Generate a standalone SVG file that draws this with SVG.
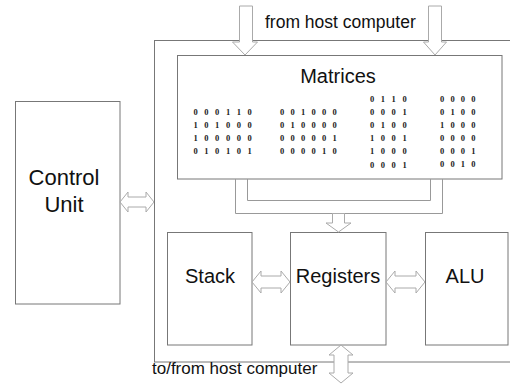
<svg xmlns="http://www.w3.org/2000/svg" width="510" height="388" viewBox="0 0 510 388">
<style>
.box{fill:#fff;stroke:#777;stroke-width:1}
.arr{fill:#fff;stroke:#aaa;stroke-width:1;stroke-linejoin:miter}
.tube{fill:none;stroke:#999;stroke-width:1}
.lbl{font-family:"Liberation Sans",Arial,sans-serif;fill:#111}
.big{font-size:20px;text-anchor:middle}
.host{font-size:17.5px}
.dig{font-family:"Liberation Serif","Times New Roman",serif;font-weight:bold;font-size:8.5px;fill:#222}
</style>
<rect width="510" height="388" fill="#fff"/>
<g id="system">
<rect class="box" x="154.5" y="40.5" width="370" height="321.5"/>
</g>
<g id="control-unit">
<rect class="box" x="15.5" y="101.5" width="104.5" height="202.5"/>
<text class="lbl" x="64" y="185" font-size="22" text-anchor="middle">Control</text>
<text class="lbl" x="64" y="212" font-size="22" text-anchor="middle">Unit</text>
</g>
<g id="matrices">
<rect class="box" x="177.5" y="55.5" width="324.5" height="123.5"/>
<text class="lbl" x="338" y="83" font-size="20" text-anchor="middle">Matrices</text>
<g class="dig">
<text y="115" x="193.5 204.3 215.1 225.9 236.7 247.5">000110</text>
<text y="128" x="193.5 204.3 215.1 225.9 236.7 247.5">101000</text>
<text y="141" x="193.5 204.3 215.1 225.9 236.7 247.5">100000</text>
<text y="154" x="193.5 204.3 215.1 225.9 236.7 247.5">010101</text>
<text y="115" x="280 290.5 301 311.5 322 332.5">001000</text>
<text y="128" x="280 290.5 301 311.5 322 332.5">010000</text>
<text y="141" x="280 290.5 301 311.5 322 332.5">000001</text>
<text y="154" x="280 290.5 301 311.5 322 332.5">000010</text>
<text y="102" x="370 380.8 391.6 402.4">0110</text>
<text y="115" x="370 380.8 391.6 402.4">0001</text>
<text y="128" x="370 380.8 391.6 402.4">0100</text>
<text y="141" x="370 380.8 391.6 402.4">1001</text>
<text y="154" x="370 380.8 391.6 402.4">1000</text>
<text y="168" x="370 380.8 391.6 402.4">0001</text>
<text y="102" x="440 450.4 460.8 471.2">0000</text>
<text y="115" x="440 450.4 460.8 471.2">0100</text>
<text y="128" x="440 450.4 460.8 471.2">1000</text>
<text y="141" x="440 450.4 460.8 471.2">0000</text>
<text y="154" x="440 450.4 460.8 471.2">0001</text>
<text y="167" x="440 450.4 460.8 471.2">0010</text>
</g>
</g>
<g id="stack">
<rect class="box" x="167.5" y="232.5" width="84.5" height="112.5"/>
<text class="lbl big" x="210" y="283">Stack</text>
</g>
<g id="registers">
<rect class="box" x="290.5" y="232.5" width="95.5" height="112.5"/>
<text class="lbl big" x="338" y="283">Registers</text>
</g>
<g id="alu">
<rect class="box" x="425.5" y="232.5" width="82.5" height="112.5"/>
<text class="lbl big" x="465" y="283">ALU</text>
</g>
<g id="connectors">
<polygon class="arr" points="239.5,6 252.5,6 252.5,42 257.5,42 245,55 232.5,42 239.5,42"/>
<polygon class="arr" points="428.5,6 441.5,6 441.5,42 446.5,42 435,55 423.5,42 428.5,42"/>
<path class="tube" d="M235.5,179 V213.5 H442.5 V179 M247.5,179 V200.5 H430.5 V179"/>
<polygon class="arr" points="332.5,213.5 344.5,213.5 344.5,223 351,223 338.5,232 326,223 332.5,223"/>
<polygon class="arr" points="120,202 128,192 128,197 146,197 146,192 154,202 146,212 146,207 128,207 128,212"/>
<polygon class="arr" points="252,282 261,271 261,276 281,276 281,271 290,282 281,293 281,288 261,288 261,293"/>
<polygon class="arr" points="386,282 395,271 395,276 416,276 416,271 425,282 416,293 416,288 395,288 395,293"/>
<polygon class="arr" points="341,345 353,355 348,355 348,373 353,373 341,383 329,373 334,373 334,355 329,355"/>
</g>
<text class="lbl host" x="265" y="28">from host computer</text>
<text class="lbl" x="152" y="374" font-size="17">to/from host computer</text>
</svg>
